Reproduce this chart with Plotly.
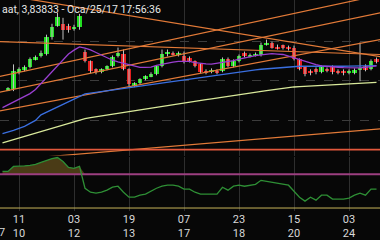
import plotly.graph_objects as go
import numpy as np

# ---------------- data ----------------
candle_idx = list(range(-2, 66))
opens = [3.8338, 3.8340, 3.8374, 3.8378, 3.8384, 3.8400, 3.8406, 3.8410, 3.8446, 3.8468,
         3.8472, 3.8468, 3.8462, 3.8466, 3.8416, 3.8396, 3.8380, 3.8374, 3.8380, 3.8386,
         3.8406, 3.8410, 3.8380, 3.8346, 3.8352, 3.8360, 3.8366, 3.8370, 3.8386, 3.8412,
         3.8412, 3.8410, 3.8406, 3.8402, 3.8396, 3.8390, 3.8376, 3.8376, 3.8376, 3.8376,
         3.8400, 3.8386, 3.8396, 3.8412, 3.8406, 3.8408, 3.8408, 3.8430, 3.8434, 3.8424,
         3.8428, 3.8424, 3.8424, 3.8400, 3.8384, 3.8376, 3.8380, 3.8374, 3.8380, 3.8384,
         3.8376, 3.8376, 3.8374, 3.8374, 3.8380, 3.8386, 3.8380, 3.8400]
closes = [3.8342, 3.8376, 3.8380, 3.8384, 3.8400, 3.8404, 3.8414, 3.8446, 3.8466, 3.8486,
          3.8460, 3.8460, 3.8466, 3.8488, 3.8396, 3.8376, 3.8374, 3.8380, 3.8386, 3.8404,
          3.8414, 3.8380, 3.8350, 3.8352, 3.8360, 3.8366, 3.8370, 3.8386, 3.8410, 3.8414,
          3.8410, 3.8412, 3.8394, 3.8396, 3.8386, 3.8374, 3.8374, 3.8378, 3.8374, 3.8400,
          3.8386, 3.8396, 3.8406, 3.8406, 3.8408, 3.8410, 3.8430, 3.8434, 3.8424, 3.8422,
          3.8424, 3.8422, 3.8400, 3.8380, 3.8370, 3.8372, 3.8374, 3.8384, 3.8378, 3.8374,
          3.8374, 3.8374, 3.8376, 3.8378, 3.8382, 3.8378, 3.8396, 3.8394]
highs = [3.8344, 3.8390, 3.8384, 3.8388, 3.8404, 3.8408, 3.8418, 3.8450, 3.8472, 3.8494,
         3.8484, 3.8472, 3.8470, 3.8492, 3.8420, 3.8398, 3.8382, 3.8382, 3.8388, 3.8408,
         3.8424, 3.8420, 3.8382, 3.8354, 3.8362, 3.8368, 3.8374, 3.8388, 3.8420, 3.8420,
         3.8416, 3.8416, 3.8416, 3.8406, 3.8398, 3.8392, 3.8380, 3.8382, 3.8380, 3.8404,
         3.8404, 3.8400, 3.8410, 3.8416, 3.8412, 3.8414, 3.8434, 3.8440, 3.8436, 3.8430,
         3.8430, 3.8428, 3.8428, 3.8402, 3.8386, 3.8380, 3.8384, 3.8388, 3.8384, 3.8388,
         3.8380, 3.8380, 3.8380, 3.8382, 3.8434, 3.8390, 3.8400, 3.8404]
lows = [3.8336, 3.8336, 3.8370, 3.8376, 3.8382, 3.8398, 3.8404, 3.8408, 3.8440, 3.8466,
        3.8440, 3.8454, 3.8458, 3.8460, 3.8394, 3.8372, 3.8370, 3.8372, 3.8378, 3.8384,
        3.8404, 3.8378, 3.8346, 3.8344, 3.8350, 3.8358, 3.8364, 3.8368, 3.8384, 3.8406,
        3.8408, 3.8406, 3.8392, 3.8394, 3.8384, 3.8372, 3.8370, 3.8372, 3.8370, 3.8374,
        3.8384, 3.8384, 3.8394, 3.8404, 3.8404, 3.8406, 3.8406, 3.8428, 3.8422, 3.8420,
        3.8420, 3.8418, 3.8398, 3.8378, 3.8366, 3.8368, 3.8370, 3.8372, 3.8374, 3.8370,
        3.8370, 3.8368, 3.8370, 3.8370, 3.8356, 3.8376, 3.8378, 3.8392]

ma_idx = list(range(-3, 66))
ma_fast = [3.83026, 3.83082, 3.83140, 3.83196, 3.83252, 3.83310, 3.83394, 3.83514, 3.83632, 3.83752,
           3.83870, 3.83990, 3.84108, 3.84188, 3.84254, 3.84230, 3.84194, 3.84140, 3.84084, 3.84030,
           3.83984, 3.83952, 3.83922, 3.83894, 3.83868, 3.83840, 3.83840, 3.83846, 3.83880, 3.83904,
           3.83926, 3.83946, 3.83960, 3.83960, 3.83960, 3.83934, 3.83918, 3.83912, 3.83904, 3.83920,
           3.83938, 3.83954, 3.83978, 3.84004, 3.84032, 3.84060, 3.84076, 3.84092, 3.84110, 3.84116,
           3.84108, 3.84100, 3.84068, 3.84032, 3.83994, 3.83954, 3.83922, 3.83894, 3.83868, 3.83856,
           3.83850, 3.83842, 3.83836, 3.83830, 3.83822, 3.83828, 3.83840, 3.83852, 3.83870]
ma_mid = [3.82500, 3.82530, 3.82570, 3.82610, 3.82650, 3.82710, 3.82770, 3.82880, 3.82934, 3.82990,
          3.83044, 3.83100, 3.83154, 3.83210, 3.83264, 3.83306, 3.83320, 3.83336, 3.83352, 3.83368,
          3.83382, 3.83398, 3.83414, 3.83428, 3.83444, 3.83460, 3.83476, 3.83490, 3.83506, 3.83522,
          3.83536, 3.83552, 3.83568, 3.83584, 3.83598, 3.83622, 3.83634, 3.83652, 3.83668, 3.83686,
          3.83704, 3.83722, 3.83740, 3.83756, 3.83770, 3.83780, 3.83790, 3.83802, 3.83812, 3.83824,
          3.83834, 3.83846, 3.83856, 3.83860, 3.83862, 3.83862, 3.83860, 3.83858, 3.83856, 3.83856,
          3.83858, 3.83860, 3.83862, 3.83864, 3.83866, 3.83868, 3.83870, 3.83872, 3.83874]
ma_slow = [3.82316, 3.82348, 3.82382, 3.82414, 3.82448, 3.82480, 3.82514, 3.82546, 3.82580, 3.82614,
           3.82646, 3.82680, 3.82712, 3.82746, 3.82778, 3.82806, 3.82824, 3.82842, 3.82858, 3.82876,
           3.82894, 3.82912, 3.82928, 3.82946, 3.82964, 3.82982, 3.82998, 3.83016, 3.83034, 3.83052,
           3.83068, 3.83086, 3.83104, 3.83122, 3.83138, 3.83154, 3.83172, 3.83188, 3.83204, 3.83222,
           3.83238, 3.83254, 3.83270, 3.83288, 3.83304, 3.83320, 3.83336, 3.83352, 3.83370, 3.83386,
           3.83402, 3.83418, 3.83436, 3.83444, 3.83450, 3.83456, 3.83462, 3.83468, 3.83474, 3.83482,
           3.83488, 3.83494, 3.83500, 3.83506, 3.83512, 3.83518, 3.83524, 3.83530, 3.83536]

osc = [73.5, 73.5, 79.4, 79.4, 80.0, 80.6, 81.8, 84.1, 86.5, 88.8,
       90.0, 85.3, 78.2, 77.1, 79.4, 53.5, 48.8, 47.6, 48.8, 51.2,
       54.7, 55.9, 48.8, 42.9, 42.9, 45.3, 46.5, 50.0, 53.5, 55.9,
       57.1, 57.1, 55.9, 52.4, 52.4, 48.8, 46.5, 46.5, 46.5, 46.5,
       54.7, 51.2, 55.9, 57.1, 55.9, 57.1, 58.2, 62.9, 61.8, 60.6,
       59.4, 58.2, 57.1, 50.0, 42.9, 38.2, 42.9, 39.4, 45.3, 45.3,
       40.6, 40.6, 40.6, 41.8, 45.3, 47.6, 45.3, 52.4, 52.4]
osc_high_level = 70
osc_low_level = 30

# trend lines: (index1, price1, index2, price2)
trend_lines = [
    (4, 3.85176, 65, 3.84070),
    (0, 3.84347, 65, 3.84102),
    (0, 3.83742, 55, 3.85047),
    (0, 3.83420, 65, 3.84925),
    (0, 3.83032, 65, 3.84387),
    (6, 3.82044, 65, 3.82594),
]
horizontal_level = 3.8218
price_grid = [3.8436, 3.8358, 3.8276]

tick_idx = [0, 10, 20, 30, 40, 50, 60]
tick_text = ["11<br>10", "03<br>12", "19<br>13", "07<br>17", "23<br>18", "15<br>20", "03<br>24"]
title_text = "aat, 3,83833 - Oca/25/17 17:56:36"

# ---------------- figure ----------------
W, H, B = 380, 240, 27
plot_h = H - B
price_dom = [1 - 157 / plot_h, 1]
osc_dom = [0, 1 - 158 / plot_h]
x_range = [-3.4545, 65.636]

fig = go.Figure()

# wicks
wx, wy = [], []
for i, h, l in zip(candle_idx, highs, lows):
    wx += [i, i, None]
    wy += [l, h, None]
fig.add_trace(go.Scatter(x=wx, y=wy, mode="lines", line=dict(color="#c0c0c0", width=1),
                         hoverinfo="skip", yaxis="y"))

# bodies
o = np.array(opens); c = np.array(closes)
colors = ["#22e022" if cc >= oo else "#e42020" for oo, cc in zip(opens, closes)]
fig.add_trace(go.Bar(x=candle_idx, y=c - o, base=o, width=0.76, marker=dict(color=colors, line=dict(width=0)),
                     yaxis="y"))

# trend lines
xa, xb = -5, 67
for (i1, p1, i2, p2) in trend_lines:
    s = (p2 - p1) / (i2 - i1)
    fig.add_trace(go.Scatter(x=[xa, xb], y=[p1 + s * (xa - i1), p1 + s * (xb - i1)], mode="lines",
                             line=dict(color="#e27a38", width=1.2), yaxis="y"))
fig.add_trace(go.Scatter(x=[xa, xb], y=[horizontal_level] * 2, mode="lines",
                         line=dict(color="#e2583c", width=1.6), yaxis="y"))

# moving averages
fig.add_trace(go.Scatter(x=ma_idx, y=ma_slow, mode="lines", line=dict(color="#d8e89a", width=1.3), yaxis="y"))
fig.add_trace(go.Scatter(x=ma_idx, y=ma_mid, mode="lines", line=dict(color="#3a6fe0", width=1.3), yaxis="y"))
fig.add_trace(go.Scatter(x=ma_idx, y=ma_fast, mode="lines", line=dict(color="#9a3fd0", width=1.3), yaxis="y"))

# oscillator
fig.add_trace(go.Scatter(x=ma_idx, y=[osc_high_level] * len(ma_idx), mode="lines",
                         line=dict(width=0, color="rgba(0,0,0,0)"), yaxis="y2", xaxis="x"))
fig.add_trace(go.Scatter(x=ma_idx, y=np.maximum(np.array(osc), osc_high_level), mode="lines",
                         line=dict(width=0, color="rgba(0,0,0,0)"), fill="tonexty",
                         fillcolor="#4a3b16", yaxis="y2"))
fig.add_trace(go.Scatter(x=[xa, xb], y=[osc_high_level] * 2, mode="lines",
                         line=dict(color="#9c3f80", width=2), yaxis="y2"))
fig.add_trace(go.Scatter(x=[xa, xb], y=[osc_low_level] * 2, mode="lines",
                         line=dict(color="#c8b45a", width=1), yaxis="y2"))
fig.add_trace(go.Scatter(x=ma_idx, y=osc, mode="lines", line=dict(color="#2e8f35", width=1.3), yaxis="y2"))

fig.update_layout(
    width=W, height=H, margin=dict(l=0, r=0, t=0, b=B),
    paper_bgcolor="#070707", plot_bgcolor="#070707",
    showlegend=False, bargap=0,
    font=dict(family="Roboto", color="#d8d8d8"),
    xaxis=dict(range=x_range, tickvals=tick_idx, ticktext=tick_text, showgrid=True,
               gridcolor="#2e2e2e", gridwidth=1, zeroline=False, showline=False, ticks="",
               tickfont=dict(size=11, color="#d8d8d8"), anchor="y2", fixedrange=True),
    yaxis=dict(domain=price_dom, range=[3.8206, 3.8520], tickvals=price_grid, showticklabels=False,
               showgrid=True, gridcolor="#3c3c3c", griddash="dash", zeroline=False, ticks=""),
    yaxis2=dict(domain=osc_dom, range=[26.47, 91.18], showticklabels=False, showgrid=False,
                zeroline=False, ticks=""),
    annotations=[
        dict(text=title_text, x=0, y=1, xref="paper", yref="paper", xanchor="left", yanchor="top",
             showarrow=False, font=dict(size=10.5, color="#e8e8e8", family="Roboto"), yshift=-1),
        dict(text="7", x=0, y=0, xref="paper", yref="paper", xanchor="left", yanchor="top",
             showarrow=False, yshift=-13, xshift=-3, font=dict(size=11, color="#d8d8d8", family="Roboto")),
    ],
)

fig.write_html("out.html")
